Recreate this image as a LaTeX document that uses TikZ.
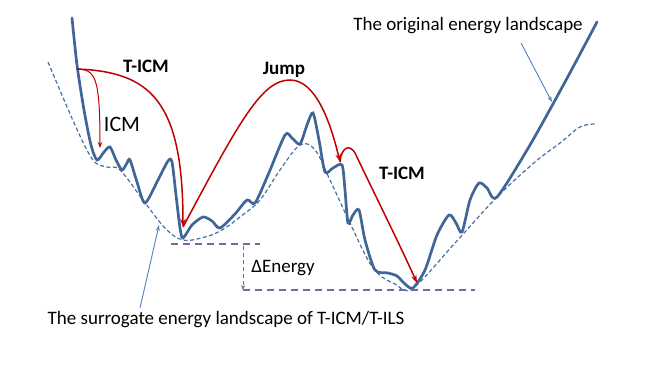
\documentclass[tikz,border=0pt]{standalone}
\usepackage{fontspec}
\setmainfont{Carlito}
\usepackage{tikz}
\usetikzlibrary{arrows.meta}
\definecolor{landblue}{HTML}{3F6697}
\definecolor{surblue}{HTML}{4A6FA5}
\definecolor{jumpred}{HTML}{C00000}
\definecolor{notearrow}{HTML}{4F81BD}
\definecolor{gappurple}{HTML}{8064A2}
\tikzset{land/.style={landblue,line width=2.7pt,line cap=round},
surr/.style={surblue,line width=1.2pt,dash pattern=on 4pt off 2.5pt},
move/.style={-{Stealth[length=8pt,width=5.5pt]},jumpred,line width=1.5pt},
pointer/.style={-{Stealth[length=6pt,width=4pt]},notearrow,line width=.9pt},
gap/.style={gappurple,line width=1.2pt,dash pattern=on 7pt off 5pt},
lab/.style={font=\fontsize{19}{21}\selectfont,inner sep=0pt},
blab/.style={lab,font=\fontsize{19}{21}\selectfont\bfseries}}

\begin{document}
\begin{tikzpicture}[x=1pt,y=-1pt]
\useasboundingbox (0,0) rectangle (664,374);
\draw[surr] plot[smooth,tension=.6] coordinates {(48,62) (75,125) (93,160) (107,167) (120,170) (143,200) (165,228) (183,240) (205,237) (222,230) (240,217) (260,200) (280,170) (300,145) (315,150) (330,180) (350,223) (373,268) (395,284) (413,288) (455,243) (497,197) (535,162) (560,143) (580,127) (596,124)};
\draw[land] plot[smooth,tension=.45] coordinates {(72,18) (77,65) (84,110) (91,145) (97,160) (104,152) (110,147) (116,160) (122,170) (127,163) (130,160) (137,182) (145,203) (158,180) (168,161) (172,162) (176,195) (180,228) (183,238) (192,225) (203,217) (212,221) (220,228) (235,214) (247,200) (255,203) (268,175) (285,135) (292,138) (300,144) (307,125) (313,113) (319,140) (325,172) (333,168) (342,165) (345,190) (348,223) (353,215) (359,210) (365,240) (375,270) (388,273) (397,276) (405,284) (413,288) (425,270) (437,235) (449,215) (456,223) (462,232) (470,200) (479,183) (487,188) (497,197) (530,145) (565,82) (597,22)};
\coordinate (start) at (77,69);
\coordinate (icmtip) at (100,148);
\coordinate (firstmin) at (183,227);
\coordinate (jumptip) at (340,162);
\coordinate (lastmin) at (417,283);
\draw[move,line width=1pt,-{Stealth[length=6pt,width=4.5pt]}] (start) .. controls (95,70) and (100,75) .. (icmtip);
\draw[move] (start) .. controls (150,72) and (183,100) .. (firstmin);
\draw[move] (firstmin) .. controls (240,120) and (262,80) .. (290,80) .. controls (315,80) and (330,120) .. (jumptip);
\draw[move] (jumptip) .. controls (341,148) and (350,142) .. (356,155) .. controls (375,195) and (400,245) .. (lastmin);
\node[blab] (ticmA) at (146,66) {T-ICM};
\node[lab,font=\fontsize{22}{24}\selectfont] (icm) at (122,124) {ICM};
\node[blab] (jump) at (284,70) {Jump};
\node[blab] (ticmB) at (402,173) {T-ICM};
\node[lab] (orig) at (468,26) {The original energy landscape};
\node[lab] (surrlab) at (226,320) {The surrogate energy landscape of T-ICM/T-ILS};
\node[lab] (denergy) at (283,268) {ΔEnergy};
\coordinate (origfrom) at (521,43);
\coordinate (origto) at (552,102);
\coordinate (surrfrom) at (140,308);
\coordinate (surrto) at (159,225);
\draw[pointer] (origfrom) -- (origto);
\draw[pointer] (surrfrom) -- (surrto);
\coordinate (hiL) at (171,244);
\coordinate (hiR) at (260,244);
\coordinate (loL) at (243,290);
\coordinate (loR) at (475,290);
\coordinate (gaptop) at (243,246);
\draw[gap] (hiL) -- (hiR);
\draw[gap] (loL) -- (loR);
\draw[gap,dash pattern=on 4pt off 3pt,line width=.9pt,-{Stealth[length=5pt,width=4pt]}] (gaptop) -- (loL);
\end{tikzpicture}
\end{document}
